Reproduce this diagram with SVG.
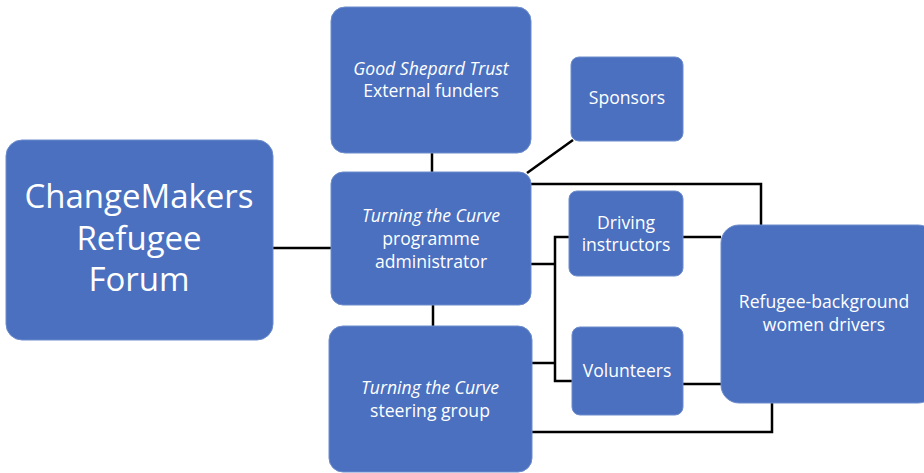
<svg xmlns="http://www.w3.org/2000/svg" width="924" height="473" viewBox="0 0 924 473">
  <style>
    .box { fill: #4a70bf; stroke: #6d8ccc; stroke-width: 1; }
    .lbl { fill: #ffffff; font-family: "Open Sans", "Liberation Sans", sans-serif; font-size: 17.6px; text-anchor: middle; }
    .big { font-size: 33px; }
    .it { font-style: italic; }
    .wire { fill: none; stroke: #000000; stroke-width: 2.5; stroke-linejoin: miter; }
  </style>
  <rect x="0" y="0" width="924" height="473" fill="#ffffff"/>

  <g id="connectors">
    <path class="wire" d="M432 153 V172"/>
    <path class="wire" d="M527 173 L573 140"/>
    <path class="wire" d="M531 184 H761 V225"/>
    <path class="wire" d="M273 248 H331"/>
    <path class="wire" d="M531 264 H555"/>
    <path class="wire" d="M569 237 H555 V381 H572"/>
    <path class="wire" d="M532 363 H555"/>
    <path class="wire" d="M683 237 H721"/>
    <path class="wire" d="M683 384 H721"/>
    <path class="wire" d="M532 432 H772 V403"/>
    <path class="wire" d="M433 305 V326"/>
  </g>

  <g id="changemakers">
    <rect class="box" x="6" y="140" width="267" height="200" rx="16"/>
    <text class="lbl big" x="139" y="208">ChangeMakers</text>
    <text class="lbl big" x="139" y="250">Refugee</text>
    <text class="lbl big" x="139" y="291">Forum</text>
  </g>

  <g id="good-shepard">
    <rect class="box" x="331" y="7" width="200" height="146" rx="14"/>
    <text class="lbl it" x="431" y="75">Good Shepard Trust</text>
    <text class="lbl" x="431" y="97">External funders</text>
  </g>

  <g id="sponsors">
    <rect class="box" x="571" y="57" width="112" height="84" rx="8"/>
    <text class="lbl" x="627" y="104">Sponsors</text>
  </g>

  <g id="administrator">
    <rect class="box" x="331" y="172" width="200" height="133" rx="12"/>
    <text class="lbl it" x="431" y="222">Turning the Curve</text>
    <text class="lbl" x="431" y="245">programme</text>
    <text class="lbl" x="431" y="268">administrator</text>
  </g>

  <g id="steering-group">
    <rect class="box" x="329" y="326" width="203" height="146" rx="14"/>
    <text class="lbl it" x="430" y="394">Turning the Curve</text>
    <text class="lbl" x="430" y="417">steering group</text>
  </g>

  <g id="driving-instructors">
    <rect class="box" x="569" y="191" width="114" height="85" rx="8"/>
    <text class="lbl" x="626" y="229">Driving</text>
    <text class="lbl" x="626" y="251">instructors</text>
  </g>

  <g id="volunteers">
    <rect class="box" x="572" y="327" width="111" height="88" rx="8"/>
    <text class="lbl" x="627" y="377">Volunteers</text>
  </g>

  <g id="women-drivers">
    <rect class="box" x="721" y="225" width="215" height="178" rx="18"/>
    <text class="lbl" x="824" y="308">Refugee-background</text>
    <text class="lbl" x="824" y="331">women drivers</text>
  </g>
</svg>
